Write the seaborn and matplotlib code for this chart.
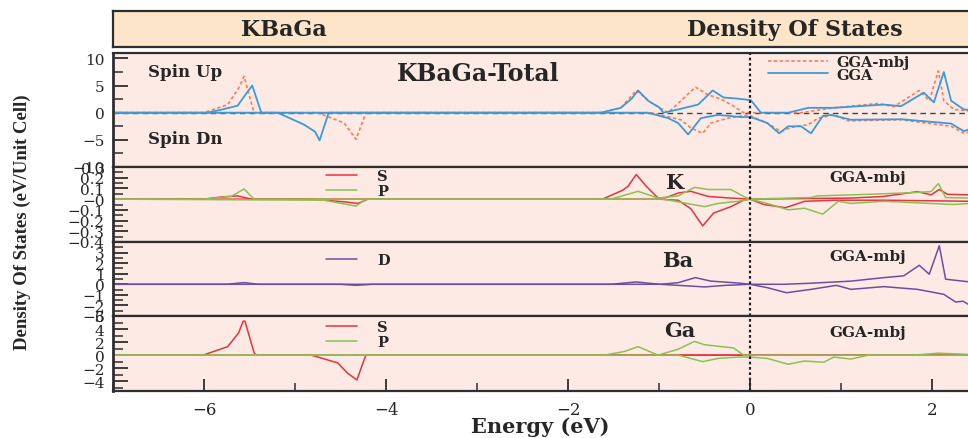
import numpy as np
import pandas as pd
import matplotlib
matplotlib.use("Agg")
import matplotlib.pyplot as plt
from matplotlib.ticker import FuncFormatter
import seaborn as sns

# ---------------- data ----------------
# Panel 1: KBaGa total DOS
tot_gga_up_x = [-7.0, -5.96, -5.8, -5.63, -5.55, -5.47, -5.37, -1.64, -1.42, -1.3, -1.23, -1.12, -1.0, -0.95,
                -0.79, -0.57, -0.41, -0.29, -0.14, 0.01, 0.12, 0.42, 0.64, 0.92, 1.47, 1.66, 1.91, 2.02, 2.13,
                2.21, 2.35, 2.42]
tot_gga_up_y = [0, 0, 0.6, 1.3, 3.2, 5.0, 0, 0, 0.9, 2.6, 4.1, 2.2, 1.0, 0,
                0.6, 1.5, 4.1, 2.8, 2.6, 2.3, 0, 0, 0.9, 0.9, 1.5, 1.2, 3.7, 1.9, 7.5,
                2.2, 0.6, 0.5]
tot_gga_dn_x = [-7.0, -5.19, -4.9, -4.78, -4.73, -4.63, -1.12, -0.9, -0.79, -0.68, -0.54, -0.35, -0.1, 0.01,
                0.19, 0.32, 0.42, 0.56, 0.67, 0.8, 0.89, 1.11, 1.66, 2.21, 2.35, 2.42]
tot_gga_dn_y = [0, 0, -2.2, -3.5, -5.1, 0, 0, -1.0, -1.9, -4.0, -1.0, -0.4, -0.8, -0.8,
                -1.9, -3.8, -2.5, -2.5, -3.8, -0.6, -0.4, -1.3, -1.2, -2.0, -3.4, -3.0]
tot_mbj_up_x = [-7.0, -6.0, -5.74, -5.62, -5.56, -5.45, -1.64, -1.42, -1.25, -1.09, -0.9, -0.76, -0.6, -0.46,
                -0.32, -0.18, -0.07, 0.56, 0.92, 1.41, 1.58, 1.86, 1.97, 2.07, 2.13, 2.24, 2.42]
tot_mbj_up_y = [0, 0, 1.5, 4.5, 6.7, 0, 0, 0.9, 4.1, 1.9, 0, 2.2, 4.7, 3.3,
                2.5, 1.2, 0, 0, 0.9, 1.7, 1.1, 4.1, 2.2, 7.7, 2.2, 0.6, 0.3]
tot_mbj_dn_x = [-7.0, -4.75, -4.46, -4.33, -4.22, -1.09, -0.76, -0.65, -0.52, -0.43, -0.24, -0.02, 0.19, 0.34,
                0.45, 0.64, 0.75, 0.92, 1.08, 1.66, 2.21, 2.35, 2.42]
tot_mbj_dn_y = [0, 0, -1.9, -4.9, 0, 0, -1.3, -2.8, -3.8, -1.9, -1.0, -0.4, -1.9, -3.5,
                -2.7, -2.2, -1.0, -0.4, -1.5, -1.3, -2.5, -3.8, -3.5]

# Panel 2: K (s, p)
k_s_up_x = [-7.0, -6.0, -5.81, -5.63, -5.48, -1.62, -1.40, -1.34, -1.25, -1.14, -1.01, -0.92, -0.79, -0.65,
            -0.46, -0.21, 0.0, 1.11, 1.47, 1.84, 1.99, 2.08, 2.17, 2.42]
k_s_up_y = [0, 0, 0.02, 0.03, 0, 0, 0.083, 0.12, 0.23, 0.12, 0.01, 0.015, 0.057, 0.073,
            0.025, 0.01, 0, 0.01, 0.025, 0.07, 0.04, 0.09, 0.045, 0.04]
k_s_dn_x = [-7.0, -4.82, -4.46, -4.31, -4.20, -1.01, -0.79, -0.65, -0.52, -0.40, -0.21, -0.07, 0.0, 0.15,
            0.39, 0.6, 0.93, 1.47, 2.42]
k_s_dn_y = [0, 0, -0.025, -0.04, 0, 0, -0.01, -0.09, -0.25, -0.13, -0.07, -0.01, 0, -0.05,
            -0.08, -0.02, -0.01, -0.01, -0.02]
k_p_up_x = [-7.0, -6.01, -5.70, -5.56, -5.45, -1.53, -1.23, -1.01, -0.79, -0.61, -0.46, -0.21, -0.07, 0.0,
            0.67, 0.74, 1.47, 1.77, 1.99, 2.07, 2.15, 2.42]
k_p_up_y = [0, 0, 0.026, 0.095, 0, 0, 0.073, 0.01, 0.03, 0.11, 0.09, 0.09, 0.025, 0,
            0.015, 0.03, 0.05, 0.06, 0.07, 0.146, 0.015, 0.01]
k_p_dn_x = [-7.0, -4.68, -4.33, -4.22, -0.95, -0.5, -0.35, -0.13, 0.0, 0.19, 0.42, 0.6, 0.8, 0.97,
            1.11, 1.47, 2.24, 2.42]
k_p_dn_y = [0, -0.01, -0.065, 0, 0, -0.07, -0.04, -0.02, 0, -0.04, -0.1, -0.085, -0.14, -0.02,
            -0.04, -0.02, -0.05, -0.04]

# Panel 3: Ba (d)
ba_d_up_x = [-7.0, -5.75, -5.56, -5.4, -1.53, -1.25, -0.99, -0.79, -0.6, -0.43, -0.13, 0.0, 0.37, 0.67,
             1.11, 1.47, 1.69, 1.86, 1.97, 2.08, 2.15, 2.42]
ba_d_up_y = [0, 0, 0.16, 0, 0, 0.22, 0, 0.15, 0.63, 0.3, 0.12, 0, 0, 0.1,
             0.3, 0.63, 0.8, 1.8, 0.95, 3.65, 0.48, 0.22]
ba_d_dn_x = [-7.0, -4.5, -4.33, -4.15, -0.99, -0.79, -0.5, -0.27, 0.0, 0.19, 0.4, 0.67, 0.95, 1.11,
             1.47, 1.84, 2.13, 2.26, 2.34, 2.42]
ba_d_dn_y = [0, 0, -0.1, 0, 0, -0.1, -0.25, -0.1, 0, -0.32, -0.8, -0.48, -0.1, -0.48,
             -0.22, -0.48, -0.95, -1.68, -1.6, -2.0]

# Panel 4: Ga (s, p)
ga_s_up_x = [-7.0, -6.01, -5.74, -5.62, -5.57, -5.55, -5.45, -5.43, 1.8, 2.07, 2.42]
ga_s_up_y = [0, 0, 1.3, 3.4, 5.2, 5.2, 0.4, 0, 0, 0.1, 0.05]
ga_s_dn_x = [-7.0, -4.82, -4.53, -4.42, -4.32, -4.24, -4.22, 2.42]
ga_s_dn_y = [0, 0, -1.2, -2.8, -3.8, -0.7, 0, 0]
ga_p_up_x = [-7.0, -1.6, -1.38, -1.23, -1.01, -0.79, -0.61, -0.5, -0.18, -0.07, 0.0, 1.8, 2.07, 2.42]
ga_p_up_y = [0, 0, 0.56, 1.3, 0, 0.9, 2.1, 1.6, 1.1, 0, 0, 0, 0.3, 0.1]
ga_p_dn_x = [-7.0, -0.79, -0.52, -0.35, -0.13, 0.0, 0.19, 0.42, 0.6, 0.81, 0.92, 1.11, 1.3, 2.42]
ga_p_dn_y = [0, 0, -1.0, -0.5, -0.3, -0.3, -0.5, -1.4, -0.9, -1.1, -0.3, -0.6, 0, 0]

x_ticks = [-6, -4, -2, 0, 2]

# ---------------- style ----------------
sns.set_theme(style="ticks")
plt.rcParams["font.family"] = ["DejaVu Serif"]
plt.rcParams["mathtext.fontset"] = "dejavuserif"

W, H = 968, 439
fig = plt.figure(figsize=(W / 100, H / 100), dpi=100)

PANEL_BG = "#fdeae5"
HEAD_BG = "#fde5c9"
SPINE = "#2e2e2e"
RED = "#e2363c"
GREEN = "#8cc152"
PURPLE = "#6b4fa0"
BLUE = "#3d9ad8"
ORANGE = "#ff7a57"


def fx(px):
    return px / W


def fy(py):
    return 1 - py / H


def fmt(v, pos):
    s = f"{round(v, 3):g}"
    return s.replace("-", "\u2212")


left = fx(113)
x_lo, x_hi = -7.0, 2.6
width = (x_hi - x_lo) * 91 / W

# header box
hdr = fig.add_axes([left, fy(48), 1.0, 36 / H])
hdr.set_facecolor(HEAD_BG)
hdr.set_xticks([])
hdr.set_yticks([])
for s in hdr.spines.values():
    s.set_color(SPINE)
    s.set_linewidth(1.6)
fig.text(fx(284), fy(30), "KBaGa", ha="center", va="center", fontsize=16, fontweight="bold")
fig.text(fx(795), fy(30), "Density Of States", ha="center", va="center", fontsize=16, fontweight="bold")

panels = [(54, 168), (168, 243), (243, 317), (317, 392)]
axes = []
for top, bot in panels:
    ax = fig.add_axes([left, fy(bot), width, (bot - top) / H])
    ax.set_facecolor(PANEL_BG)
    ax.set_xlim(x_lo, x_hi)
    for s in ax.spines.values():
        s.set_color(SPINE)
        s.set_linewidth(1.6)
    ax.spines["left"].set_linewidth(2.0)
    ax.tick_params(axis="y", which="major", direction="in", length=11, width=1.3, color=SPINE,
                   labelsize=11, pad=6)
    ax.tick_params(axis="y", which="minor", direction="in", length=7, width=1.1, color=SPINE)
    axes.append(ax)

ax1, ax2, ax3, ax4 = axes


def draw(ax, x, y, color, ls="-", lw=1.1, label=None):
    sns.lineplot(x=x, y=y, ax=ax, color=color, linestyle=ls, linewidth=lw, label=label,
                 sort=False, estimator=None, legend=bool(label))


# Panel 1
ax1.axhline(0, color="#444444", linestyle=(0, (4, 3)), linewidth=1.0, zorder=1)
draw(ax1, tot_mbj_up_x, tot_mbj_up_y, ORANGE, ls=(0, (2, 1.5)), lw=1.2, label="GGA-mbj")
draw(ax1, tot_mbj_dn_x, tot_mbj_dn_y, ORANGE, ls=(0, (2, 1.5)), lw=1.2)
draw(ax1, tot_gga_up_x, tot_gga_up_y, BLUE, lw=1.3, label="GGA")
draw(ax1, tot_gga_dn_x, tot_gga_dn_y, BLUE, lw=1.3)
ax1.set_ylim(-10, 11)
ax1.set_yticks([-10, -5, 0, 5, 10])
ax1.set_yticks(np.arange(-10, 11, 2.5), minor=True)

# Panel 2
draw(ax2, k_s_up_x, k_s_up_y, RED, label="S")
draw(ax2, k_s_dn_x, k_s_dn_y, RED)
draw(ax2, k_p_up_x, k_p_up_y, GREEN, label="P")
draw(ax2, k_p_dn_x, k_p_dn_y, GREEN)
ax2.set_ylim(-0.4, 0.3)
ax2.set_yticks(np.round(np.arange(-0.4, 0.31, 0.1), 1))
ax2.set_yticks(np.arange(-0.4, 0.31, 0.05), minor=True)

# Panel 3
draw(ax3, ba_d_up_x, ba_d_up_y, PURPLE, label="D")
draw(ax3, ba_d_dn_x, ba_d_dn_y, PURPLE)
ax3.set_ylim(-3, 4)
ax3.set_yticks(np.arange(-3, 4, 1))
ax3.set_yticks(np.arange(-3, 4.1, 0.5), minor=True)

# Panel 4
draw(ax4, ga_s_up_x, ga_s_up_y, RED, label="S")
draw(ax4, ga_s_dn_x, ga_s_dn_y, RED)
draw(ax4, ga_p_up_x, ga_p_up_y, GREEN, label="P")
draw(ax4, ga_p_dn_x, ga_p_dn_y, GREEN)
ax4.set_ylim(-5.5, 6)
ax4.set_yticks(np.arange(-4, 7, 2))
ax4.set_yticks(np.arange(-5, 6.1, 1), minor=True)

for ax in axes:
    ax.axvline(0, color="#222222", linestyle=(0, (1.2, 1.2)), linewidth=1.6, zorder=5)
    ax.set_xlabel("")
    ax.set_ylabel("")
    ax.yaxis.set_major_formatter(FuncFormatter(fmt))

for ax in (ax1, ax2, ax3):
    ax.set_xticks([])
    ax.tick_params(axis="x", which="both", bottom=False, labelbottom=False)

ax4.set_xticks(x_ticks)
ax4.set_xticks(np.arange(-7, 3, 1), minor=True)
ax4.xaxis.set_major_formatter(FuncFormatter(fmt))
ax4.tick_params(axis="x", which="major", direction="in", length=9, width=1.3, color=SPINE,
                labelsize=12, pad=7)
ax4.tick_params(axis="x", which="minor", direction="in", length=6, width=1.1, color=SPINE)

# legends
lg_kw = dict(frameon=False, borderpad=0, borderaxespad=0, loc="upper left",
             bbox_transform=fig.transFigure, prop={"weight": "bold", "size": 10.5})
ax1.legend(bbox_to_anchor=(fx(768), fy(56)), handlelength=4.1, handletextpad=0.6,
           labelspacing=-0.1, **lg_kw)
for ax, ytop in ((ax2, 170), (ax3, 254), (ax4, 321)):
    ax.legend(bbox_to_anchor=(fx(326), fy(ytop)), handlelength=2.1, handletextpad=1.4,
              labelspacing=0.05, **lg_kw)

# annotations
bold = dict(fontweight="bold", va="center")
fig.text(fx(148), fy(73), "Spin Up", ha="left", fontsize=12, **bold)
fig.text(fx(148), fy(139), "Spin Dn", ha="left", fontsize=12, **bold)
fig.text(fx(478), fy(74), "KBaGa-Total", ha="center", fontsize=17, **bold)
fig.text(fx(675), fy(183), "K", ha="center", fontsize=15, **bold)
fig.text(fx(678), fy(261), "Ba", ha="center", fontsize=15, **bold)
fig.text(fx(680), fy(331), "Ga", ha="center", fontsize=15, **bold)
for yy in (178, 257, 333):
    fig.text(fx(868), fy(yy), "GGA-mbj", ha="center", fontsize=11, **bold)

fig.text(fx(540), fy(427), "Energy (eV)", ha="center", va="center", fontsize=15, fontweight="bold")
fig.text(fx(22), fy(222), "Density Of States (eV/Unit Cell)", ha="center", va="center", rotation=90,
         fontsize=13.5, fontweight="bold", family=["Liberation Serif", "DejaVu Serif"])

fig.savefig("out.png", dpi=100, facecolor="white")
